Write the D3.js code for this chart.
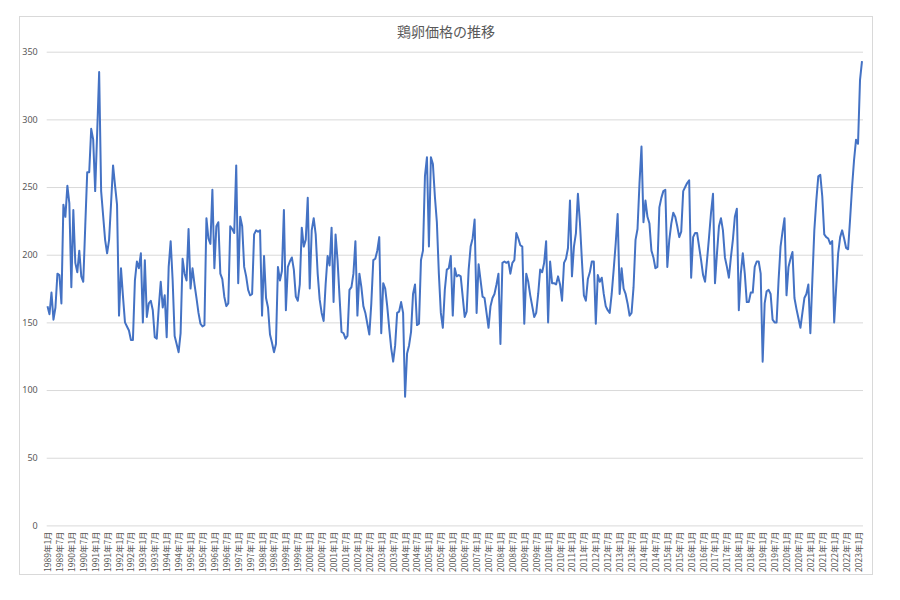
<!DOCTYPE html>
<html>
<head>
<meta charset="utf-8">
<script src="https://cdn.jsdelivr.net/npm/d3@7"></script>
<style>
  body { margin: 0; background: #fff; }
  text { font-family: "Noto Sans CJK JP", "Noto Sans", sans-serif; }
</style>
</head>
<body>
<svg id="chart" width="900" height="600"></svg>
<script>
var title = "鶏卵価格の推移";
var startYear = 1989;
var labelEvery = 6;
var yTicks = [0, 50, 100, 150, 200, 250, 300, 350];

// monthly price, 1989年1月 .. 2023年3月
var prices = [
  162,156,172,152,161,186,185,164,237,228,251,238,   // 1989
  176,233,194,187,203,184,180,221,261,261,293,285,   // 1990
  247,290,335,247,229,211,201,211,238,266,251,237,   // 1991
  155,190,169,150,147,144,137,137,181,195,190,201,   // 1992
  150,196,154,164,166,159,139,138,161,180,161,170,   // 1993
  139,191,210,181,140,134,128,142,197,186,181,219,   // 1994
  175,190,178,168,157,149,147,148,227,212,208,248,   // 1995
  190,221,224,186,182,169,162,164,221,219,216,266,   // 1996
  179,228,221,191,184,174,170,171,215,218,217,218,   // 1997
  155,199,168,161,141,135,128,134,191,181,188,233,   // 1998
  159,191,195,198,189,169,166,178,220,206,211,242,   // 1999
  175,218,227,215,186,167,157,151,178,199,192,220,   // 2000
  165,215,196,169,143,142,138,140,174,176,186,210,   // 2001
  155,186,176,162,157,149,141,164,196,197,203,213,   // 2002
  142,179,175,162,146,131,121,133,157,158,165,157,   // 2003
  95,127,133,143,171,178,148,149,196,203,258,272,    // 2004
  206,272,267,243,224,186,157,146,174,189,190,199,   // 2005
  155,190,184,185,184,169,154,158,189,206,212,226,   // 2006
  157,193,181,169,168,157,146,162,168,171,178,186,   // 2007
  134,194,195,194,195,186,194,196,216,212,207,206,   // 2008
  149,186,180,170,162,154,157,171,189,187,194,210,   // 2009
  150,195,179,179,178,184,178,166,194,197,205,240,   // 2010
  184,206,216,245,224,196,170,166,182,187,195,195,   // 2011
  149,185,180,183,171,162,159,157,171,189,208,230,   // 2012
  171,190,175,171,164,155,157,176,211,219,253,280,   // 2013
  224,240,228,223,203,198,190,191,235,242,247,248,   // 2014
  191,211,223,231,228,221,213,217,247,250,253,255,   // 2015
  183,213,216,216,206,196,185,180,196,213,231,245,   // 2016
  179,201,221,227,218,198,191,183,198,211,228,234,   // 2017
  159,186,201,186,165,165,172,172,191,195,195,186,   // 2018
  121,164,173,174,171,152,150,150,181,206,217,227,   // 2019
  170,191,197,202,168,160,153,146,157,168,171,178,   // 2020
  142,181,218,240,258,259,243,215,213,212,208,210,   // 2021
  150,176,201,213,218,212,205,204,226,250,270,285,   // 2022
  282,329,343                                        // 2023
];

// category labels like "1989年1月"
var months = prices.map(function(d, i) {
  return (startYear + Math.floor(i / 12)) + "年" + (i % 12 + 1) + "月";
});

var svg = d3.select("#chart");

var plotLeft = 46.7, plotRight = 863, plotTop = 51.7, plotBottom = 525.4;

// outer chart border
svg.append("rect")
  .attr("x", 19.5).attr("y", 16.5)
  .attr("width", 853).attr("height", 558)
  .attr("fill", "#fff")
  .attr("stroke", "#d9d9d9");

svg.append("text")
  .attr("x", 446).attr("y", 37)
  .attr("text-anchor", "middle")
  .attr("font-size", 14)
  .attr("fill", "#595959")
  .text(title);

var y = d3.scaleLinear()
  .domain([0, 350])
  .range([plotBottom, plotTop]);

var x = d3.scalePoint()
  .domain(d3.range(prices.length))
  .range([47.5, 862]);

// y axis + gridlines
var yAxis = svg.append("g")
  .attr("transform", "translate(" + plotLeft + ",0)")
  .call(d3.axisLeft(y)
    .tickValues(yTicks)
    .tickSize(-(plotRight - plotLeft))
    .tickPadding(9));
yAxis.select(".domain").remove();
yAxis.selectAll("line").attr("stroke", "#d9d9d9");
yAxis.selectAll("text")
  .attr("font-size", 9)
  .attr("fill", "#595959")
  .style("font-family", "'Noto Sans', sans-serif");

// x axis labels, every 6 months
var xTicks = d3.range(0, prices.length, labelEvery);
var xAxis = svg.append("g")
  .attr("transform", "translate(0," + plotBottom + ")")
  .call(d3.axisBottom(x)
    .tickValues(xTicks)
    .tickFormat(function(i) { return months[i]; })
    .tickSize(0));
xAxis.select(".domain").remove();
xAxis.selectAll("text")
  .attr("font-size", 8.5)
  .attr("fill", "#595959")
  .attr("text-anchor", "end")
  .attr("transform", "rotate(-90)")
  .attr("x", -6)
  .attr("y", 0)
  .attr("dy", "0.35em");

// price line
var line = d3.line()
  .x(function(d, i) { return x(i); })
  .y(function(d) { return y(d); });

svg.append("path")
  .datum(prices)
  .attr("fill", "none")
  .attr("stroke", "#4472C4")
  .attr("stroke-width", 2)
  .attr("stroke-linejoin", "round")
  .attr("d", line);
</script>
</body>
</html>
